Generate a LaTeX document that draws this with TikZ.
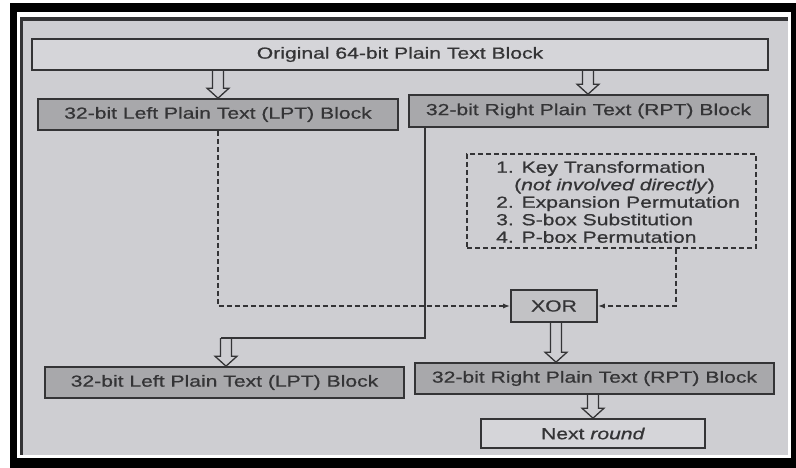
\documentclass[tikz,border=0pt]{standalone}
\usepackage{fontspec}
\setmainfont{Liberation Sans}[FakeStretch=1.32,FakeBold=0.7]
\usetikzlibrary{calc,arrows.meta}
\definecolor{pagebg}{HTML}{CECED2}
\definecolor{darkfill}{HTML}{A8A8AB}
\definecolor{ink}{HTML}{343436}
\pgfdeclarelayer{back}
\pgfdeclarelayer{mid}
\pgfsetlayers{back,mid,main}
\tikzset{
  blk/.style={draw=ink, line width=1.6pt, inner sep=0pt, text=ink, anchor=center},
  lightbox/.style={blk, fill=pagebg!85!white},
  darkbox/.style={blk, fill=darkfill},
  conn/.style={draw=ink, line width=1.5pt},
  dconn/.style={draw=ink, line width=1.4pt, dash pattern=on 5pt off 3pt},
  hollow/.style={draw=ink, line width=1.3pt, fill=pagebg, line join=miter},
  tipstyle/.style={-{Latex[length=7pt,width=5pt]}},
  listtext/.style={text=ink, inner sep=0pt, align=left, anchor=west}
}
\newcommand\hollowdown[3]{%
  \path (#1,0) coordinate (hx);
  \begin{pgfonlayer}{mid}
  \draw[hollow] let \p1=(hx |- #2), \p2=(hx |- #3) in
    ({\x1-5.5pt},\y1) -- ({\x1-5.5pt},{\y2+10pt}) -- ({\x1-11pt},{\y2+10pt})
    -- (\x1,\y2) -- ({\x1+11pt},{\y2+10pt}) -- ({\x1+5.5pt},{\y2+10pt}) -- ({\x1+5.5pt},\y1);
  \end{pgfonlayer}
}
\begin{document}
\begin{tikzpicture}[x=1pt,y=-1pt,font=\fontsize{16}{17.5}\selectfont]
\useasboundingbox (0,0) rectangle (796,468);
\begin{pgfonlayer}{back}
\fill[white] (0,0) rectangle (796,468);
\fill[black] (10,3) rectangle (796,468);
\fill[white] (17,12) rectangle (791,458);
\fill[ink] (20,17) rectangle (788,455);
\fill[pagebg] (23,21) rectangle (788,455);
\end{pgfonlayer}

\node[lightbox, minimum width=736, minimum height=31] (orig) at (400,54.5) {Original 64-bit Plain Text Block};
\node[darkbox, minimum width=360, minimum height=31] (lpt1) at (218,114.5) {32-bit Left Plain Text (LPT) Block};
\node[darkbox, minimum width=359, minimum height=32] (rpt1) at (588.5,111) {32-bit Right Plain Text (RPT) Block};
\node[blk, dash pattern=on 5pt off 3pt, line width=1.4pt, minimum width=289, minimum height=94] (keys) at (611.5,201) {};
\node[listtext] (keystext) at (496,202)
  {1. Key Transformation\\
   \hspace*{18pt}(\textit{not involved directly})\\
   2. Expansion Permutation\\
   3. S-box Substitution\\
   4. P-box Permutation};
\node[blk, fill=pagebg!94!black, minimum width=86, minimum height=32] (xor) at (554,306) {XOR};
\node[darkbox, minimum width=359, minimum height=31] (lpt2) at (224.5,382.5) {32-bit Left Plain Text (LPT) Block};
\node[darkbox, minimum width=359, minimum height=31] (rpt2) at (594.5,378.5) {32-bit Right Plain Text (RPT) Block};
\node[lightbox, minimum width=224, minimum height=29] (next) at (593,433.5) {Next \textit{round}};

% hollow arrows
\hollowdown{218}{orig.south}{lpt1.north}
\hollowdown{588}{orig.south}{rpt1.north}
\hollowdown{556}{xor.south}{rpt2.north}
\hollowdown{593}{rpt2.south}{next.north}

% solid connector from right block to lower left block
\coordinate (rx) at (425,0);
\coordinate (jl) at (220.5,338);
\draw[conn] (rpt1.south -| rx) |- (jl);
\hollowdown{226}{jl}{lpt2.north}

% dashed connectors into XOR
\draw[dconn, tipstyle] (lpt1.south) |- (xor.west);
\coordinate (kx) at (676,0);
\draw[dconn, tipstyle] (keys.south -| kx) |- (xor.east);
\end{tikzpicture}
\end{document}
